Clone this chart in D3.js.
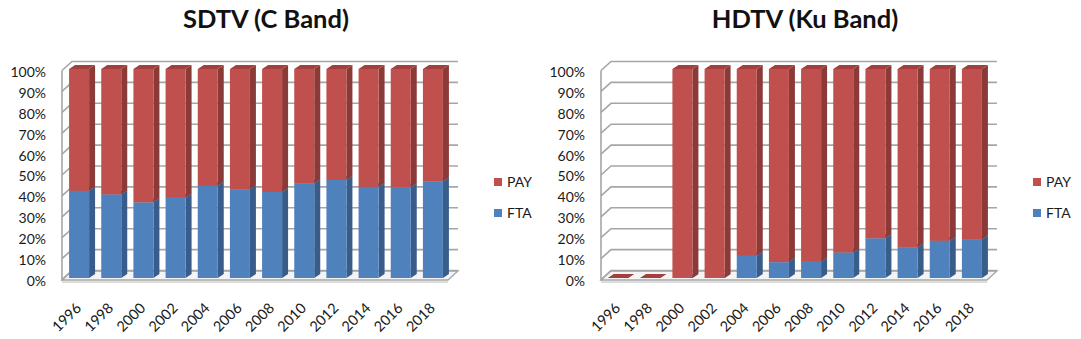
<!DOCTYPE html>
<html>
<head>
<meta charset="utf-8">
<script src="https://cdn.jsdelivr.net/npm/d3@7"></script>
<style>
  body { margin: 0; background: #fff; }
  svg { display: block; font-family: Lato, "Open Sans", sans-serif; }
</style>
</head>
<body>
<svg id="chart" width="1081" height="339"></svg>
<script>
// data (percent)
var years = ['1996','1998','2000','2002','2004','2006','2008','2010','2012','2014','2016','2018'];
var sdtvFta = [41.7, 40.0, 36.2, 38.4, 44.1, 42.5, 41.2, 45.2, 46.9, 43.6, 43.4, 46.3];
var sdtvPay = [58.3, 60.0, 63.8, 61.6, 55.9, 57.5, 58.8, 54.8, 53.1, 56.4, 56.6, 53.7];
var hdtvFta = [0, 0, 0, 0, 10.6, 7.6, 7.8, 12.2, 19.0, 14.6, 17.8, 18.6];
var hdtvPay = [0, 0, 100, 100, 89.4, 92.4, 92.2, 87.8, 81.0, 85.4, 82.2, 81.4];
var yTicks = [0, 10, 20, 30, 40, 50, 60, 70, 80, 90, 100];
var seriesNames = ['FTA', 'PAY'];

var colors = {
    FTA: {front: '#4F81BD', side: '#385D8A', top: '#4672A6'},
    PAY: {front: '#C0504D', side: '#8C3A37', top: '#A3403D'}
};

var svg = d3.select('#chart');

function drawChart(ox, title, fta, pay) {
    var g = svg.append('g').attr('transform', 'translate(' + ox + ',0)');

    // wall / floor geometry
    var x0 = 62, x1 = 448;
    var wdx = 10, wdy = -9;     // depth of the walls
    var bdx = 6, bdy = -4;      // depth of a bar

    var x = d3.scaleBand().domain(years).range([63, 449]).paddingInner(0.378).paddingOuter(0.189);
    var y = d3.scaleLinear().domain([0, 100]).range([278, 69]);
    var yBack = function(v){ return y(v) - 7.5; };

    // floor slab
    g.append('path')
        .attr('d', 'M' + x0 + ',' + (y(0)+2) + 'L' + (x1) + ',' + (y(0)+2) + 'L' + (x1+wdx) + ',' + (y(0)+2+wdy) +
              'L' + (x0+wdx) + ',' + (y(0)+2+wdy) + 'Z')
        .attr('fill', '#f4f4f4').attr('stroke', '#a6a6a6').attr('stroke-width', 1.3);
    g.append('line')
        .attr('x1', x0).attr('x2', x1).attr('y1', y(0)+4).attr('y2', y(0)+4)
        .attr('stroke', '#b8b8b8').attr('stroke-width', 1);

    // gridlines on back and side walls
    var grid = g.append('g').attr('class', 'grid');
    grid.selectAll('path')
        .data(yTicks)
        .enter()
      .append('path')
        .attr('d', function(v){
            return 'M' + x0 + ',' + (yBack(v) - wdy) + 'L' + (x0+wdx) + ',' + yBack(v) + 'L' + (x1+wdx) + ',' + yBack(v);
        })
        .attr('fill', 'none')
        .attr('stroke', '#a6a6a6')
        .attr('stroke-width', 1.6);
    grid.append('line')
        .attr('x1', x0).attr('x2', x0)
        .attr('y1', yBack(100) - wdy).attr('y2', yBack(0) - wdy + 1)
        .attr('stroke', '#a6a6a6').attr('stroke-width', 1.6);

    // y labels
    g.append('g').selectAll('text')
        .data(yTicks)
        .enter()
      .append('text')
        .attr('x', 46)
        .attr('y', function(v){ return y(v) + 3; })
        .attr('dy', '0.35em')
        .attr('text-anchor', 'end')
        .attr('font-size', 14)
        .attr('fill', '#1a1a1a')
        .text(function(v){ return v + '%'; });

    // stacked 3d bars
    var table = years.map(function(yr, i){ return {year: yr, FTA: fta[i], PAY: pay[i]}; });
    var stack = d3.stack().keys(seriesNames)(table);

    stack.forEach(function(layer){
        var c = colors[layer.key];
        var bars = g.append('g').attr('class', 'layer-' + layer.key)
            .selectAll('g')
            .data(layer)
            .enter()
          .append('g');

        bars.append('path')   // side face
            .attr('d', function(d){
                var xr = x(d.data.year) + x.bandwidth(), yt = y(d[1]), yb = y(d[0]);
                return 'M' + xr + ',' + yt + 'L' + (xr+bdx) + ',' + (yt+bdy) + 'L' + (xr+bdx) + ',' + (yb+bdy) + 'L' + xr + ',' + yb + 'Z';
            })
            .attr('fill', c.side);
        bars.append('rect')   // front face
            .attr('x', function(d){ return x(d.data.year); })
            .attr('y', function(d){ return y(d[1]); })
            .attr('width', x.bandwidth())
            .attr('height', function(d){ return y(d[0]) - y(d[1]); })
            .attr('fill', c.front);
        bars.append('path')   // top face
            .attr('d', function(d){
                var xl = x(d.data.year), xr = xl + x.bandwidth(), yt = y(d[1]);
                return 'M' + xl + ',' + yt + 'L' + (xl+bdx) + ',' + (yt+bdy) + 'L' + (xr+bdx) + ',' + (yt+bdy) + 'L' + xr + ',' + yt + 'Z';
            })
            .attr('fill', c.top);
    });

    // x labels, rotated
    g.append('g').selectAll('text')
        .data(years)
        .enter()
      .append('text')
        .attr('transform', function(d){
            return 'translate(' + (x(d) + x.bandwidth()/2 + 3) + ',309) rotate(-45)';
        })
        .attr('text-anchor', 'end')
        .attr('font-size', 14.5)
        .attr('fill', '#1a1a1a')
        .text(function(d){ return d; });

    // title
    g.append('text')
        .attr('x', 266).attr('y', 28)
        .attr('text-anchor', 'middle')
        .attr('font-size', 25.5)
        .attr('font-weight', 'bold')
        .attr('fill', '#111')
        .text(title);

    // legend (PAY on top)
    var leg = g.append('g').selectAll('g')
        .data(seriesNames.slice().reverse())
        .enter()
      .append('g')
        .attr('transform', function(d, i){ return 'translate(494,' + (178 + i*31) + ')'; });
    leg.append('rect')
        .attr('width', 8).attr('height', 8)
        .attr('fill', function(d){ return colors[d].front; });
    leg.append('text')
        .attr('x', 13).attr('y', 8.5)
        .attr('font-size', 14)
        .attr('fill', '#1a1a1a')
        .text(function(d){ return d; });
}

drawChart(0, 'SDTV (C Band)', sdtvFta, sdtvPay);
drawChart(539, 'HDTV (Ku Band)', hdtvFta, hdtvPay);
</script>
</body>
</html>
